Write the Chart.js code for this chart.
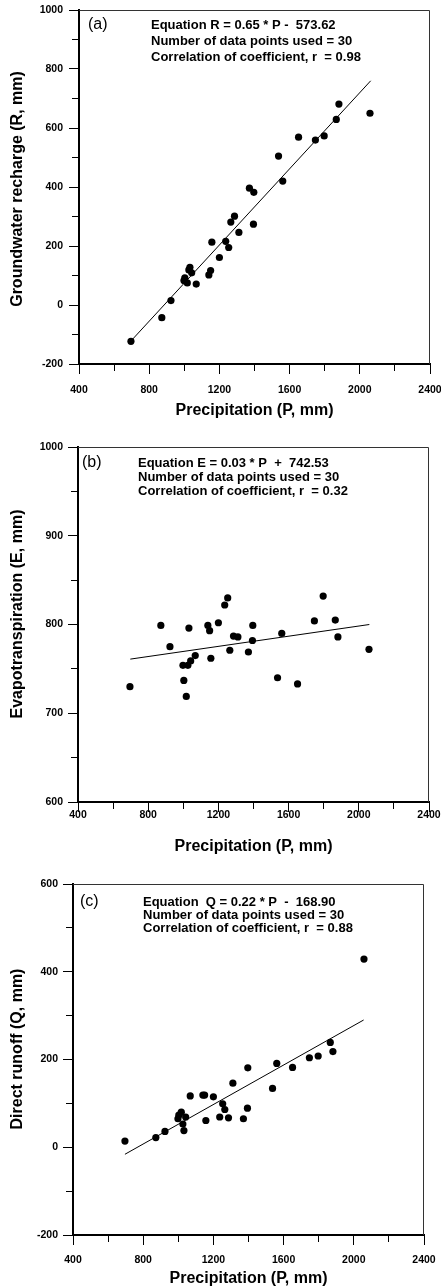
<!DOCTYPE html>
<html>
<head>
<title>Precipitation vs recharge, evapotranspiration and runoff</title>
<script src="https://cdn.jsdelivr.net/npm/chart.js"></script>
<style>
body { margin: 0; background: #fff; }
#wrap { position: relative; width: 441px; height: 1288px; overflow: hidden; }
canvas { position: absolute; left: 0; }
</style>
</head>
<body>
<div id="wrap">
  <canvas id="chartA" width="441" height="430" style="top:0px"></canvas>
  <canvas id="chartB" width="441" height="430" style="top:430px"></canvas>
  <canvas id="chartC" width="441" height="428" style="top:860px"></canvas>
</div>

<script>
// annual precipitation (mm), same 30 years in every panel
const precip   = [696, 872, 924, 998, 1003, 1017, 1026, 1032, 1042, 1068, 1140, 1150, 1157, 1200, 1236,
                  1253, 1265, 1286, 1311, 1371, 1394, 1396, 1537, 1561, 1651, 1747, 1797, 1866, 1881, 2058];
const recharge = [-123, -43, 15, 83, 92, 75, 119, 128, 109, 71, 102, 117, 213, 161, 216,
                  195, 281, 301, 246, 396, 274, 382, 505, 420, 569, 559, 573, 629, 681, 650];
const evapo    = [730, 799, 775, 754, 737, 719, 754, 796, 759, 765, 799, 793, 762, 802, 822,
                  830, 771, 787, 786, 769, 782, 799, 740, 790, 733, 804, 832, 805, 786, 772];
const runoff   = [14, 22, 36, 65, 73, 80, 53, 38, 69, 117, 119, 119, 61, 115, 69,
                  99, 86, 67, 146, 65, 89, 181, 134, 191, 182, 204, 208, 239, 218, 429];

// fitted line end points as drawn
const fitAx = [696, 2062], fitAy = [-122, 760];
const fitBx = [698, 2060], fitBy = [761, 800];
const fitCx = [696, 2056], fitCy = [-16, 290];

// tick labels (major ticks)
const xTickLabels = [400, 800, 1200, 1600, 2000, 2400];
const yTicksA = [-200, 0, 200, 400, 600, 800, 1000];
const yTicksB = [600, 700, 800, 900, 1000];
const yTicksC = [-200, 0, 200, 400, 600];

const FAMILY = '"Liberation Sans", Arial, Helvetica, sans-serif';
Chart.defaults.font.family = FAMILY;
Chart.defaults.color = '#000';

// frame on top/right, panel tag, regression text, rotated y title
const annotate = {
  id: 'annotate',
  afterDraw(chart, args, o) {
    const { ctx, chartArea: a } = chart;
    ctx.save();
    ctx.strokeStyle = '#333';
    ctx.lineWidth = 1;
    ctx.beginPath();
    ctx.moveTo(a.left, a.top + 0.5);
    ctx.lineTo(a.right - 0.5, a.top + 0.5);
    ctx.lineTo(a.right - 0.5, a.bottom);
    ctx.stroke();
    ctx.fillStyle = '#000';
    ctx.textBaseline = 'middle';
    ctx.font = '16px ' + FAMILY;
    ctx.fillText(o.tag, o.tagX, o.y);
    ctx.font = 'bold 13px ' + FAMILY;
    o.lines.forEach((t, i) => ctx.fillText(t, o.textX, o.y + i * o.gap));
    ctx.translate(18, o.titleY);
    ctx.rotate(-Math.PI / 2);
    ctx.textAlign = 'center';
    ctx.font = 'bold 16px ' + FAMILY;
    ctx.fillText(o.yTitle, 0, 0);
    ctx.restore();
  }
};

function makePanel(id, p) {
  const minorX = c => xTickLabels.includes(c.tick.value) ? [] : [6, 100];
  const minorY = c => p.yLabels.includes(c.tick.value) ? [] : [0, 3, 6, 100];
  new Chart(document.getElementById(id), {
    type: 'scatter',
    data: {
      datasets: [
        {
          data: precip.map((x, i) => ({ x: x, y: p.values[i] })),
          pointRadius: 3.6,
          pointBackgroundColor: '#000',
          pointBorderWidth: 0
        },
        {
          data: p.fitX.map((x, i) => ({ x: x, y: p.fitY[i] })),
          showLine: true,
          borderColor: '#000',
          borderWidth: 1,
          pointRadius: 0
        }
      ]
    },
    options: {
      responsive: false,
      animation: false,
      devicePixelRatio: 1,
      layout: { padding: p.padding },
      plugins: {
        legend: { display: false },
        tooltip: { enabled: false },
        annotate: p.note
      },
      scales: {
        x: {
          type: 'linear',
          min: 400, max: 2400,
          ticks: {
            stepSize: 200, autoSkip: false, maxRotation: 0, padding: p.xPad,
            font: { size: 10.5, weight: 'bold' },
            callback: v => xTickLabels.includes(v) ? String(v) : ''
          },
          grid: { drawOnChartArea: false, tickLength: 10, color: '#000', lineWidth: 1, tickBorderDash: minorX },
          border: { color: '#000', width: 2 },
          title: { display: true, text: 'Precipitation (P, mm)', font: { size: 16, weight: 'bold' }, padding: 0 },
          afterFit: s => { s.height = p.xHeight; s.paddingLeft = 0; s.paddingRight = 0; }
        },
        y: {
          type: 'linear',
          min: p.yMin, max: p.yMax,
          ticks: {
            stepSize: p.yStep, autoSkip: false, padding: p.yPad,
            font: { size: 10.5, weight: 'bold' },
            callback: v => p.yLabels.includes(v) ? String(v) : ''
          },
          grid: { drawOnChartArea: false, tickLength: 10, color: '#000', lineWidth: 1, tickBorderDash: minorY },
          border: { color: '#000', width: 2 },
          afterFit: s => { s.width = p.left; s.paddingTop = 0; s.paddingBottom = 0; }
        }
      }
    },
    plugins: [annotate]
  });
}

makePanel('chartA', {
  values: recharge, fitX: fitAx, fitY: fitAy,
  yMin: -200, yMax: 1000, yStep: 100, yLabels: yTicksA,
  left: 79, xHeight: 56, xPad: 10, yPad: 6,
  padding: { top: 10, left: 0, right: 11, bottom: 10 },
  note: {
    tag: '(a)', tagX: 88, textX: 151, y: 25, gap: 16,
    yTitle: 'Groundwater recharge (R, mm)', titleY: 189,
    lines: ['Equation R = 0.65 * P -  573.62', 'Number of data points used = 30', 'Correlation of coefficient, r  = 0.98']
  }
});

makePanel('chartB', {
  values: evapo, fitX: fitBx, fitY: fitBy,
  yMin: 600, yMax: 1000, yStep: 50, yLabels: yTicksB,
  left: 78, xHeight: 54, xPad: -3, yPad: 5,
  padding: { top: 17, left: 0, right: 12, bottom: 4 },
  note: {
    tag: '(b)', tagX: 82, textX: 138, y: 33, gap: 14,
    yTitle: 'Evapotranspiration (E, mm)', titleY: 184,
    lines: ['Equation E = 0.03 * P  +  742.53', 'Number of data points used = 30', 'Correlation of coefficient, r  = 0.32']
  }
});

makePanel('chartC', {
  values: runoff, fitX: fitCx, fitY: fitCy,
  yMin: -200, yMax: 600, yStep: 100, yLabels: yTicksC,
  left: 73, xHeight: 53, xPad: 9, yPad: 5,
  padding: { top: 24, left: 0, right: 17, bottom: 0 },
  note: {
    tag: '(c)', tagX: 80, textX: 143, y: 42, gap: 13.3,
    yTitle: 'Direct runoff (Q, mm)', titleY: 189,
    lines: ['Equation  Q = 0.22 * P  -  168.90', 'Number of data points used = 30', 'Correlation of coefficient, r  = 0.88']
  }
});
</script>
</body>
</html>
